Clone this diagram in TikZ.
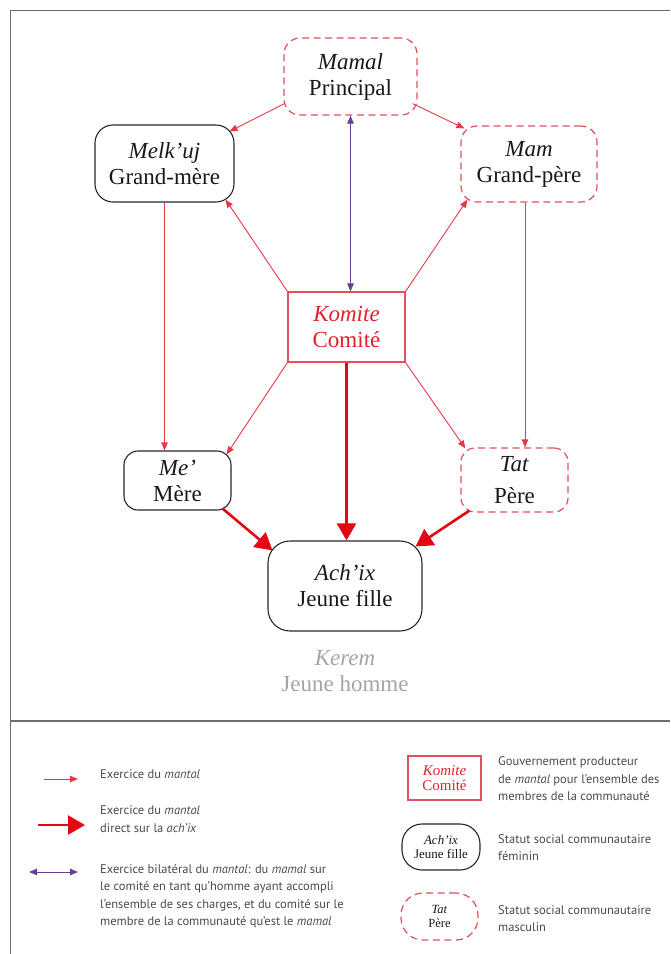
\documentclass[tikz,border=0pt]{standalone}
\usepackage{fontspec}
\setmainfont{Liberation Serif}
\newfontfamily\legsans{PT Sans}
\usetikzlibrary{arrows.meta,calc}
\definecolor{myred}{HTML}{E30613}
\definecolor{thinred}{HTML}{E53A45}
\definecolor{boxred}{HTML}{E2505C}
\definecolor{komred}{HTML}{E2202F}
\definecolor{mypurple}{HTML}{6A3D9A}
\definecolor{framegray}{HTML}{6E6E6E}
\definecolor{legtext}{HTML}{4A4A4A}
\definecolor{keremgray}{HTML}{A5A5A5}
\begin{document}
\begin{tikzpicture}[x=1pt,y=-1pt,
  txt/.style={font=\fontsize{23}{26}\selectfont, align=center, inner sep=0pt, text=black!90},
  solidbox/.style={txt, draw=black!85, line width=1.1pt, rounded corners=#1},
  dashbox/.style={txt, draw=boxred, line width=1.2pt, dash pattern=on 7pt off 4.5pt, rounded corners=#1},
  komitebox/.style={txt, draw=boxred, line width=1.1pt, text=komred},
  thinarrow/.style={draw=thinred, line width=0.9pt, -{Triangle[length=8pt,width=6.5pt]}},
  thickarrow/.style={draw=myred, line width=2.6pt, -{Triangle[length=17pt,width=19pt]}},
  purplearrow/.style={draw=mypurple, line width=0.9pt, {Triangle[length=8pt,width=6.5pt]}-{Triangle[length=8pt,width=6.5pt]}},
  legtxt/.style={font=\legsans\fontsize{12.5}{17.5}\selectfont, text=legtext, align=left, inner sep=0pt, anchor=west},
]
\useasboundingbox (0,0) rectangle (670,954);
% frame
\draw[framegray, line width=1pt] (670,10) -- (10,10) -- (10,954);
\draw[framegray, line width=1.4pt] (10,721) -- (670,721);

% nodes
\node[dashbox=16pt, minimum width=133pt, minimum height=77pt] (mamal) at (350.5,76.5) {\textit{Mamal}\\Principal};
\node[solidbox=18pt, minimum width=139pt, minimum height=77pt] (melkuj) at (164.5,163.5) {\textit{Melk’uj}\\Grand-mère};
\node[dashbox=16pt, minimum width=136pt, minimum height=76pt] (mam) at (529,164) {\textit{Mam}\\Grand-père};
\node[komitebox, minimum width=117pt, minimum height=70pt] (komite) at (346.5,327) {\textit{Komite}\\Comité};
\node[solidbox=14pt, minimum width=107pt, minimum height=59pt] (me) at (177.5,480.5) {\textit{Me’}\\Mère};
\node[dashbox=14pt, minimum width=107pt, minimum height=64pt] (tat) at (514.5,480) {\textit{Tat}\\[6pt]Père};
\node[solidbox=22pt, minimum width=154pt, minimum height=90pt] (achix) at (345,586) {\textit{Ach’ix}\\Jeune fille};
\node[txt, text=keremgray] (kerem) at (345,671) {\textit{Kerem}\\Jeune homme};

% connectors
\coordinate (mamout) at ($(mam.south)+(-4,0)$);
\draw[thinarrow] ($(mamal.south west)+(1,-12)$) -- ($(melkuj.north east)+(-5,7)$);
\draw[thinarrow] ($(mamal.south east)+(-5,-12)$) -- ($(mam.north west)+(4,3)$);
\draw[purplearrow] (mamal.south) -- (mamal.south |- komite.north);
\draw[thinarrow] (komite.north west) -- ($(melkuj.south east)+(-9,-3)$);
\draw[thinarrow] (komite.north east) -- ($(mam.south west)+(7,-3)$);
\draw[thinarrow] (melkuj.south) -- (melkuj.south |- me.north);
\draw[thinarrow] (mamout) -- (mamout |- tat.north);
\draw[thinarrow] (komite.south west) -- ($(me.north east)+(-5,4)$);
\draw[thinarrow] (komite.south east) -- ($(tat.north west)+(5,1)$);
\draw[thickarrow] (komite.south) -- (komite.south |- achix.north);
\draw[thickarrow] ($(me.south east)+(-9,-2)$) -- ($(achix.north west)+(5,10)$);
\draw[thickarrow] ($(tat.south west)+(9,-2)$) -- ($(achix.north east)+(-7,6)$);

% legend
\coordinate (la1) at (44,779); \coordinate (lb1) at (78,779);
\coordinate (la2) at (38,825); \coordinate (lb2) at (85,825);
\coordinate (la3) at (29,872); \coordinate (lb3) at (78,872);
\draw[thinarrow] (la1) -- (lb1);
\draw[thickarrow] (la2) -- (lb2);
\draw[purplearrow] (la3) -- (lb3);
\node[legtxt] (lt1) at (100,774) {Exercice du \textit{mantal}};
\node[legtxt] (lt2) at (100,819) {Exercice du \textit{mantal}\\direct sur la \textit{ach’ix}};
\node[legtxt] (lt3) at (100,896) {Exercice bilatéral du \textit{mantal}: du \textit{mamal} sur\\le comité en tant qu’homme ayant accompli\\l’ensemble de ses charges, et du comité sur le\\membre de la communauté qu’est le \textit{mamal}};

\node[komitebox, minimum width=73pt, minimum height=44pt, font=\fontsize{15}{15}\selectfont] (lkom) at (444.5,778) {\textit{Komite}\\Comité};
\node[solidbox=20pt, minimum width=78pt, minimum height=46pt, font=\fontsize{13}{13.5}\selectfont] (lach) at (441,847) {\textit{Ach’ix}\\Jeune fille};
\node[dashbox=22pt, minimum width=77pt, minimum height=47pt, font=\fontsize{12.5}{14}\selectfont] (ltat) at (439.5,916.5) {\textit{Tat}\\Père};

\node[legtxt] (lt4) at (498,779) {Gouvernement producteur\\de \textit{mantal} pour l’ensemble des\\membres de la communauté};
\node[legtxt] (lt5) at (498,847.5) {Statut social communautaire\\féminin};
\node[legtxt] (lt6) at (498,918.5) {Statut social communautaire\\masculin};
\end{tikzpicture}
\end{document}
